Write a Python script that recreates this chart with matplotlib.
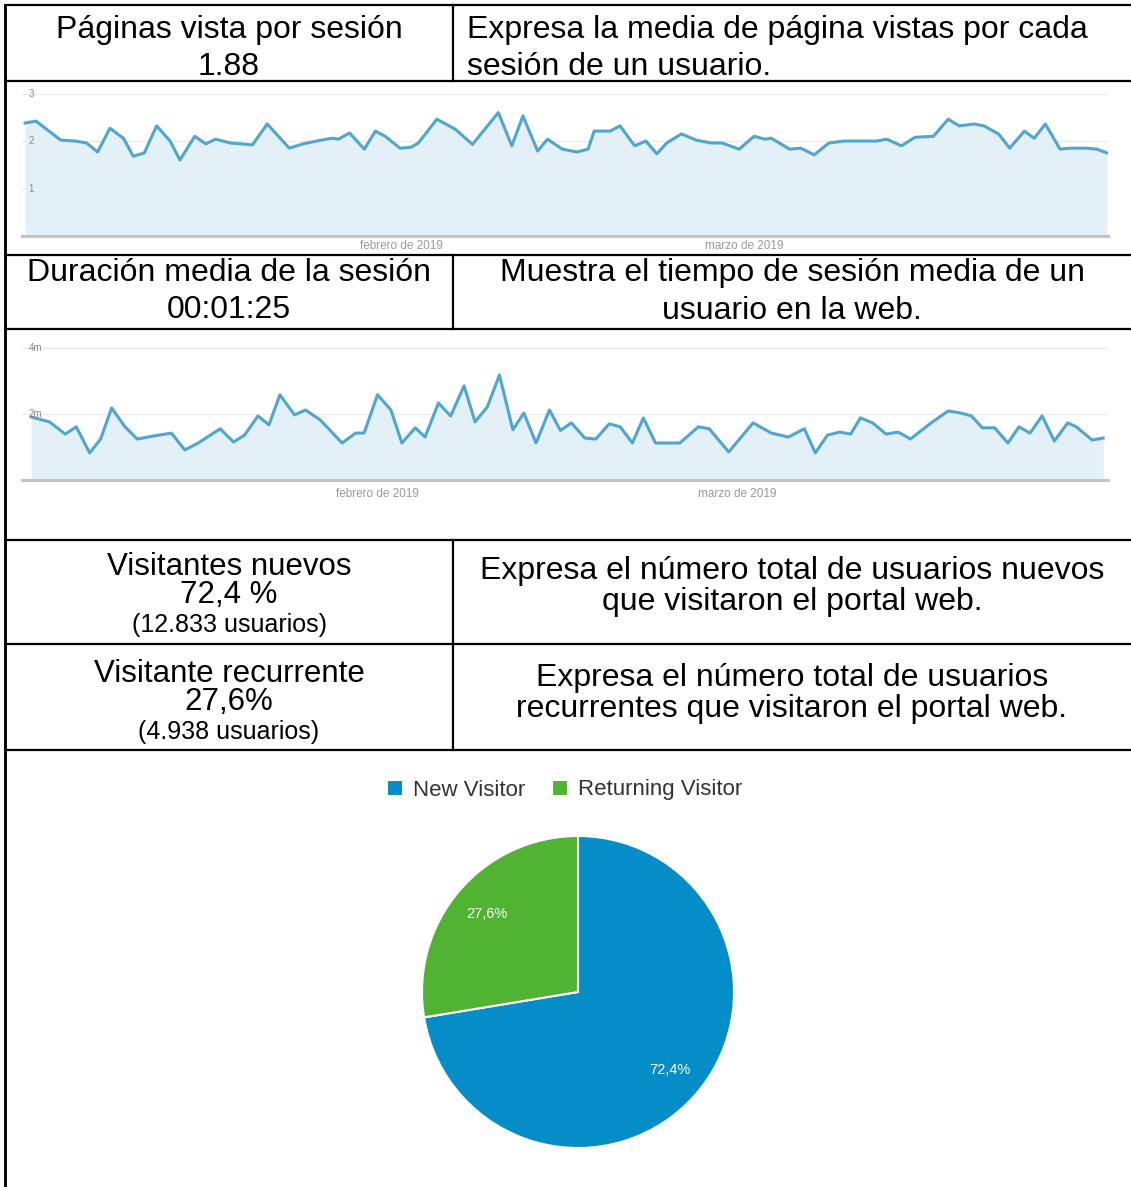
import numpy as np
import matplotlib
matplotlib.use('Agg')
import matplotlib.pyplot as plt

plt.rcParams['font.family'] = ['Liberation Sans', 'DejaVu Sans']

W, H = 1131, 1187  # tamaño en pixeles

# paginas vistas por sesion (dias desde el 1 de enero de 2019)
dias_pag = [0.0, 0.9, 2.9, 4.1, 5.0, 5.9, 6.9, 8.0, 8.8, 9.7, 10.7, 11.8, 12.6, 13.8,
            14.7, 15.5, 16.7, 18.5, 19.7, 21.5, 22.6, 24.1, 25.0, 25.5, 26.4, 27.6,
            28.5, 29.3, 30.5, 31.4, 32.0, 33.5, 35.0, 36.4, 38.5, 39.6, 40.5, 41.7,
            42.5, 43.7, 44.9, 45.8, 46.3, 47.6, 48.4, 49.6, 50.5, 51.4, 52.2, 53.4,
            54.6, 55.8, 56.7, 58.1, 59.3, 60.2, 60.7, 62.2, 63.1, 64.2, 65.4, 66.6,
            67.8, 69.3, 70.1, 71.3, 72.4, 73.9, 75.1, 76.0, 77.2, 78.0, 79.2, 80.1,
            81.3, 82.1, 83.0, 84.2, 85.0, 86.3, 87.2, 88.0]
pag_sesion = [2.38, 2.42, 2.02, 2.00, 1.96, 1.77, 2.27, 2.06, 1.68, 1.75, 2.32, 2.00,
              1.60, 2.10, 1.94, 2.04, 1.96, 1.92, 2.36, 1.85, 1.94, 2.02, 2.06, 2.04,
              2.17, 1.83, 2.21, 2.10, 1.85, 1.87, 1.96, 2.46, 2.25, 1.93, 2.60, 1.90,
              2.53, 1.79, 2.04, 1.83, 1.77, 1.83, 2.21, 2.21, 2.32, 1.90, 2.00, 1.73,
              1.96, 2.15, 2.02, 1.96, 1.96, 1.83, 2.10, 2.04, 2.06, 1.83, 1.85, 1.71,
              1.96, 2.00, 2.00, 2.00, 2.04, 1.90, 2.08, 2.10, 2.46, 2.32, 2.36, 2.32,
              2.15, 1.85, 2.21, 2.06, 2.36, 1.83, 1.85, 1.85, 1.83, 1.75]

# duracion media de la sesion, en minutos
dias_dur = [0.0, 1.5, 2.8, 3.7, 4.8, 5.7, 6.6, 7.7, 8.7, 10.0, 11.5, 12.6, 13.7, 15.5,
            16.6, 17.5, 18.6, 19.5, 20.4, 21.6, 22.5, 23.7, 25.5, 26.6, 27.3, 28.4,
            29.5, 30.4, 31.5, 32.3, 33.4, 34.4, 35.5, 36.4, 37.4, 38.4, 39.5, 40.4,
            41.4, 42.5, 43.4, 44.3, 45.4, 46.3, 47.4, 48.3, 49.3, 50.2, 51.2, 52.3,
            53.2, 54.7, 55.6, 57.2, 59.2, 60.7, 62.1, 63.4, 64.3, 65.3, 66.3, 67.2,
            68.0, 69.0, 70.1, 71.1, 72.1, 73.8, 75.2, 76.2, 77.1, 78.0, 79.0, 80.1,
            81.0, 81.9, 82.9, 83.9, 85.0, 85.7, 87.0, 87.9]
dur_min = [1.91, 1.76, 1.39, 1.61, 0.82, 1.24, 2.18, 1.61, 1.24, 1.33, 1.42, 0.91,
           1.12, 1.55, 1.15, 1.36, 1.94, 1.67, 2.58, 1.97, 2.12, 1.82, 1.12, 1.42,
           1.42, 2.58, 2.12, 1.12, 1.58, 1.30, 2.33, 1.94, 2.85, 1.76, 2.21, 3.18,
           1.52, 2.03, 1.12, 2.12, 1.50, 1.73, 1.27, 1.24, 1.70, 1.61, 1.12, 1.88,
           1.12, 1.12, 1.12, 1.61, 1.55, 0.85, 1.73, 1.42, 1.30, 1.55, 0.82, 1.36,
           1.45, 1.39, 1.88, 1.73, 1.39, 1.45, 1.24, 1.73, 2.09, 2.03, 1.94, 1.58,
           1.58, 1.12, 1.61, 1.42, 1.94, 1.18, 1.73, 1.61, 1.21, 1.27]

meses = ['febrero de 2019', 'marzo de 2019']
meses_pos_pag = [30.6, 58.5]
meses_pos_dur = [28.4, 57.9]

tipos = ['New Visitor', 'Returning Visitor']
porcentajes = [72.4, 27.6]
colores = ['#058dc7', '#50b432']

col_linea = '#4fa6d0'
col_relleno = '#e3f0f7'


def caja(x0, y0, x1, y1):
    # pixeles (origen arriba a la izquierda) -> fraccion de figura
    return [x0 / W, 1 - y1 / H, (x1 - x0) / W, (y1 - y0) / H]


fig = plt.figure(figsize=(W / 100, H / 100), dpi=100)

# tabla de fondo
tab = fig.add_axes([0, 0, 1, 1])
tab.set_xlim(0, W)
tab.set_ylim(H, 0)
tab.axis('off')

lw = 1.6
for y in [5, 81, 255, 329, 540, 644, 750]:
    tab.plot([5, W], [y, y], color='black', lw=lw, solid_capstyle='butt')
tab.plot([5, 5], [5, H], color='black', lw=lw * 1.3)
for y0, y1 in [(5, 81), (255, 329), (540, 750)]:
    tab.plot([453, 453], [y0, y1], color='black', lw=lw)

fs = 23
fs_med = 22.5
fs_chica = 18
cx_izq = 229
cx_der = 792


def celda(x, y, s, ha='center', size=fs):
    tab.text(x, y, s, ha=ha, va='baseline', fontsize=size)


celda(cx_izq, 38, 'Páginas vista por sesión')
celda(cx_izq, 75, '1.88')
celda(467, 38, 'Expresa la media de página vistas por cada', ha='left')
celda(467, 75, 'sesión de un usuario.', ha='left')

celda(cx_izq, 281, 'Duración media de la sesión')
celda(cx_izq, 318, '00:01:25')
celda(cx_der, 281, 'Muestra el tiempo de sesión media de un')
celda(cx_der, 319, 'usuario en la web.')

celda(cx_izq, 575, 'Visitantes nuevos', size=fs_med)
celda(cx_izq, 603, '72,4 %', size=fs_med)
celda(cx_izq, 632, '(12.833 usuarios)', size=fs_chica)
celda(cx_der, 579, 'Expresa el número total de usuarios nuevos')
celda(cx_der, 610, 'que visitaron el portal web.')

celda(cx_izq, 682, 'Visitante recurrente', size=fs_med)
celda(cx_izq, 710, '27,6%', size=fs_med)
celda(cx_izq, 739, '(4.938 usuarios)', size=fs_chica)
celda(cx_der, 686, 'Expresa el número total de usuarios')
celda(cx_der, 717, 'recurrentes que visitaron el portal web.')


def grafico_linea(rect, dias, valores, ymax, xlim, ticks_y, etiquetas_y, pos_meses, pad):
    ax = fig.add_axes(rect)
    ax.fill_between(dias, valores, 0, color=col_relleno, lw=0)
    ax.plot(dias, valores, color=col_linea, lw=2.2)
    ax.set_xlim(*xlim)
    ax.set_ylim(0, ymax)
    for v in ticks_y:
        ax.axhline(v, color='#e9e9e9', lw=0.8, zorder=0.5)
    for v, et in zip(ticks_y, etiquetas_y):
        ax.text(0.006, v, et, transform=ax.get_yaxis_transform(), ha='left', va='center',
                fontsize=7, color='#8a8a8a', zorder=5)
    ax.set_yticks([])
    ax.set_xticks(pos_meses)
    ax.set_xticklabels(meses)
    ax.tick_params(axis='x', length=0, pad=pad, labelsize=8.5, labelcolor='#999999')
    for s in ['top', 'right', 'left']:
        ax.spines[s].set_visible(False)
    ax.spines['bottom'].set_color('#c4c4c4')
    ax.spines['bottom'].set_linewidth(2.2)
    ax.patch.set_alpha(0)
    return ax


grafico_linea(caja(22, 86, 1108, 236), dias_pag, pag_sesion, 3.16, (-0.25, 88.1),
              [1, 2, 3], ['1', '2', '3'], meses_pos_pag, 3)
grafico_linea(caja(22, 335, 1108, 480), dias_dur, dur_min, 4.39, (-0.75, 88.3),
              [2, 4], ['2m', '4m'], meses_pos_dur, 6)

# grafico de sectores
r = 156
cx, cy = 578, 992
ap = fig.add_axes(caja(cx - r * 1.02, cy - r * 1.02, cx + r * 1.02, cy + r * 1.02))
cunas, _, pct = ap.pie(porcentajes, colors=colores, startangle=90, counterclock=False,
                       wedgeprops=dict(edgecolor='white', linewidth=1.5),
                       autopct=lambda p: f'{p:.1f}%'.replace('.', ','),
                       pctdistance=0.77,
                       textprops=dict(color='white', fontsize=10.5))
ap.set_xlim(-1.02, 1.02)
ap.set_ylim(-1.02, 1.02)
ap.set_aspect('equal')

fig.legend(cunas, tipos, loc='center', bbox_to_anchor=(565 / W, 1 - 790 / H), ncol=2,
           frameon=False, fontsize=16, handlelength=0.72, handleheight=0.72,
           handletextpad=0.45, columnspacing=1.2, labelcolor='#333333')

fig.savefig('out.png', dpi=100)
